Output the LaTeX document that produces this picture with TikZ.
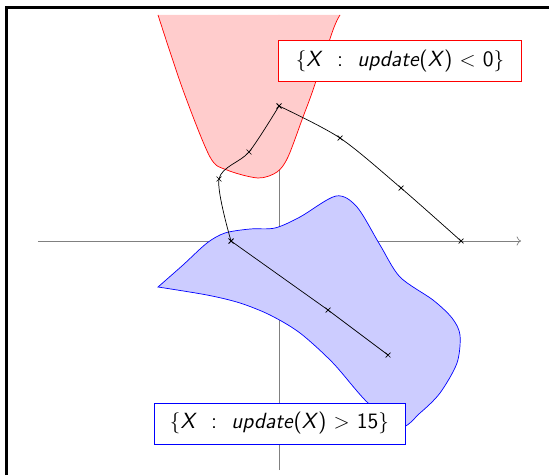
\documentclass[tikz,border=0pt]{standalone}
\usepackage{tikz}
\usetikzlibrary{calc,arrows.meta}

\begin{document}
\begin{tikzpicture}[
  setbox/.style={draw, fill=white, minimum width=#1, minimum height=0.82cm, inner sep=0pt, font=\sffamily\fontsize{12.5}{15}\selectfont},
  traj/.style={black, mark=x, mark size=2pt}]
\useasboundingbox (-5.58,-4.68) rectangle (5.40,4.82);
\draw[line width=1.7pt] (-5.45,-4.68) -- (-5.45,4.67) -- (5.40,4.67);
% axes
\draw[gray,->] (-4.82,0) -- (4.84,0);
\draw[gray,->] (0,-4.58) -- (0,4.52);
% negative updates
\filldraw[fill=red!20, draw=red] plot[smooth] coordinates {(-2.42,4.52) (-1.92,3.02) (-1.38,1.68) (-1.04,1.42) (-0.42,1.26) (-0.04,1.38) (0.18,1.68) (0.48,2.48) (0.68,3.02) (1.08,4.22) (1.22,4.52)};
% large updates
\filldraw[fill=blue!20, draw=blue] plot[smooth] coordinates {(-2.42,-0.92) (-1.92,-0.48) (-1.44,-0.04) (-1.08,0.16) (-0.58,0.24) (-0.08,0.26) (0.42,0.48) (1.14,0.90) (1.56,0.68) (2.02,-0.08) (2.42,-0.72) (3.08,-1.18) (3.46,-1.54) (3.62,-1.88) (3.56,-2.44) (3.22,-3.04) (2.82,-3.44) (2.42,-3.72) (1.76,-3.22) (1.08,-2.44) (0.42,-1.84) (-0.18,-1.48) (-0.78,-1.24) (-1.44,-1.08) (-2.42,-0.92)} -- cycle;
% iterates
\coordinate (p1) at (3.64,0);
\coordinate (p2) at (2.44,1.06);
\coordinate (p3) at (1.22,2.06);
\coordinate (p4) at (0,2.70);
\coordinate (p5) at (-0.60,1.78);
\coordinate (p6) at (-1.20,1.24);
\coordinate (p7) at (-0.96,0);
\coordinate (p8) at (0.98,-1.38);
\coordinate (p9) at (2.18,-2.28);
\draw[traj] plot[smooth] coordinates {(p1) (p2) (p3) (p4)};
\draw[traj] plot[smooth] coordinates {(p4) (p5) (p6) (p7)};
\draw[traj] plot coordinates {(p7) (p8) (p9)};
%\draw[traj] (p7) -- (p9);
\node[setbox=4.86cm, draw=red] (neg) at (2.42,3.6) {$\{$\textit{X}\ \ :\ \ \textit{update}(\textit{X}) $<$ 0$\}$};
\node[setbox=5.02cm, draw=blue] (big) at (0.01,-3.65) {$\{$\textit{X}\ \ :\ \ \textit{update}(\textit{X}) $>$ 15$\}$};
\end{tikzpicture}
\end{document}
